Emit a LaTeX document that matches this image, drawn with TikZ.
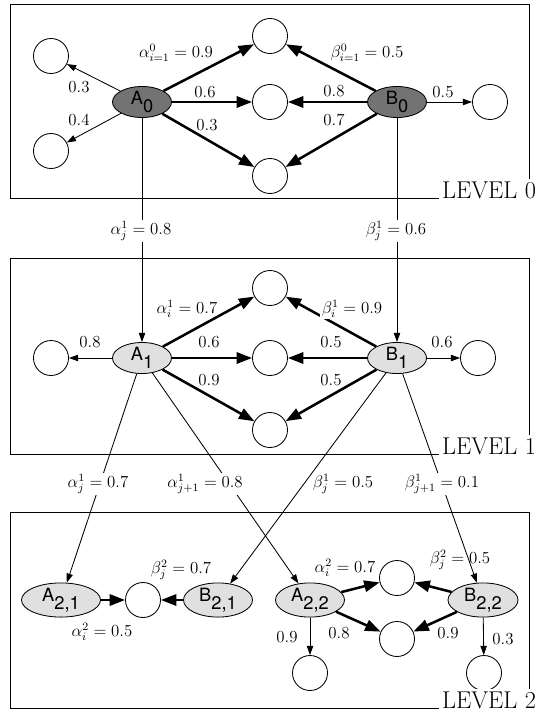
\documentclass[tikz,border=0pt]{standalone}
\usepackage{fontspec}
\setsansfont{TeX Gyre Heros}
\usetikzlibrary{shapes.geometric,arrows.meta}

% agent name with a lowered index, e.g. A_0
\newcommand\agent[2]{\textsf{#1\raisebox{-0.85ex}{#2}}}

\begin{document}
\begin{tikzpicture}[x=0.025cm,y=-0.025cm,
  state/.style={circle,draw,line width=0.6pt,fill=white,minimum size=0.875cm,inner sep=0pt},
  agent/.style={ellipse,draw,line width=0.6pt,inner sep=0pt,minimum width=1.475cm,
    minimum height=0.775cm,font=\fontsize{13}{15}\selectfont},
  dark/.style={agent,fill=black!55},
  light/.style={agent,fill=black!12},
  strong/.style={line width=1.8pt,-{Triangle[length=11pt,width=8pt]}},
  weak/.style={line width=0.6pt,-{Triangle[length=6.5pt,width=4.5pt]}},
  lbl/.style={font=\large,inner sep=1pt},
  lblw/.style={lbl,fill=white},
  level/.style={draw,line width=0.6pt},
  levelname/.style={anchor=base west,fill=white,inner sep=2pt,font=\LARGE}]

  \useasboundingbox (0,0) rectangle (536,710);

  % the three boxes
  \draw[level] (10,4) rectangle (529,198);
  \draw[level] (10,258) rectangle (529,454);
  \draw[level] (10,512) rectangle (529,708);

  % level 0
  \node[dark] (A0) at (142,102) {\agent{A}{0}};
  \node[dark] (B0) at (397,102) {\agent{B}{0}};
  \begin{scope}[every node/.style=state]
    \node (t0) at (270,36) {};
    \node (m0) at (270,102) {};
    \node (b0) at (270,176) {};
    \node (lu0) at (51,56) {};
    \node (ld0) at (51,151) {};
    \node (r0) at (490,102) {};
  \end{scope}

  \foreach \s in {t0, m0, b0} {
    \path [strong] (A0) edge (\s);
    \path [strong] (B0) edge (\s);
  }
  \path [weak] (A0) edge (lu0) edge (ld0);
  \path [weak] (B0) edge (r0);

  % level 1
  \node[light] (A1) at (142,358) {\agent{A}{1}};
  \node[light] (B1) at (397,358) {\agent{B}{1}};
  \begin{scope}[every node/.style=state]
    \node (t1) at (270,288) {};
    \node (m1) at (270,358) {};
    \node (b1) at (270,430) {};
    \node (l1) at (51,358) {};
    \node (r1) at (478,358) {};
  \end{scope}

  \foreach \s in {t1, m1, b1} {
    \path [strong] (A1) edge (\s);
    \path [strong] (B1) edge (\s);
  }
  \path [weak] (A1) edge (l1);
  \path [weak] (B1) edge (r1);

  % level 2
  \node[light,minimum width=1.975cm,minimum height=0.85cm] (A21) at (61,600) {\agent{A}{2,1}};
  \node[light,minimum width=1.725cm,minimum height=0.85cm] (B21) at (218,600) {\agent{B}{2,1}};
  \node[light,minimum width=1.725cm,minimum height=0.85cm] (A22) at (310,600) {\agent{A}{2,2}};
  \node[light,minimum width=1.75cm,minimum height=0.85cm] (B22) at (483,600) {\agent{B}{2,2}};
  \begin{scope}[every node/.style=state]
    \node (c21) at (143,600) {};
    \node (u22) at (397,578) {};
    \node (d22) at (397,639) {};
    \node (ad22) at (310,673) {};
    \node (bd22) at (484,673) {};
  \end{scope}

  \path [strong] (A21) edge (c21);
  \path [strong] (B21) edge (c21);
  \foreach \s in {u22, d22} {
    \path [strong] (A22) edge (\s);
    \path [strong] (B22) edge (\s);
  }
  \path [weak] (A22) edge (ad22);
  \path [weak] (B22) edge (bd22);

  % links between levels
  \path [weak] (A0) edge (A1);
  \path [weak] (B0) edge (B1);
  \path [weak] (A1) edge (A21) edge (A22);
  \path [weak] (B1) edge (B21) edge (B22);

  % weights, level 0
  \node[lbl]  (wA0t) at (176,53) {$\alpha^0_{i=1}=0.9$};
  \node[lblw] (wB0t) at (367,53) {$\beta^0_{i=1}=0.5$};
  \node[lbl]  (wA0m) at (205,92) {$0.6$};
  \node[lbl]  (wA0b) at (207,125) {$0.3$};
  \node[lbl]  (wB0m) at (334,91) {$0.8$};
  \node[lbl]  (wB0b) at (334,120) {$0.7$};
  \node[lbl]  (wA0u) at (79,87) {$0.3$};
  \node[lbl]  (wA0d) at (79,120) {$0.4$};
  \node[lbl]  (wB0r) at (443,92) {$0.5$};

  \node[lblw] (wA01) at (141,231) {$\alpha^1_j=0.8$};
  \node[lblw] (wB01) at (396,231) {$\beta^1_j=0.6$};

  % weights, level 1
  \node[lbl]  (wA1t) at (187,309) {$\alpha^1_i=0.7$};
  \node[lblw] (wB1t) at (352,309) {$\beta^1_i=0.9$};
  \node[lbl]  (wA1m) at (209,342) {$0.6$};
  \node[lbl]  (wA1b) at (209,380) {$0.9$};
  \node[lbl]  (wB1m) at (331,342) {$0.5$};
  \node[lbl]  (wB1b) at (331,380) {$0.5$};
  \node[lbl]  (wA1l) at (90,342) {$0.8$};
  \node[lbl]  (wB1r) at (442,342) {$0.6$};

  \node[lblw] (wA121) at (98,484) {$\alpha^1_j=0.7$};
  \node[lblw] (wA122) at (205,484) {$\alpha^1_{j+1}=0.8$};
  \node[lbl]  (wB121) at (343,484) {$\beta^1_j=0.5$};
  \node[lblw] (wB122) at (442,484) {$\beta^1_{j+1}=0.1$};

  % weights, level 2
  \node[lbl] (wB21) at (181,570) {$\beta^2_j=0.7$};
  \node[lbl] (wA21) at (102,632) {$\alpha^2_i=0.5$};
  \node[lbl] (wA22u) at (345,568) {$\alpha^2_i=0.7$};
  \node[lbl] (wB22u) at (460,560) {$\beta^2_j=0.5$};
  \node[lbl] (wA22a) at (287,637) {$0.9$};
  \node[lbl] (wA22d) at (339,633) {$0.8$};
  \node[lbl] (wB22d) at (448,633) {$0.9$};
  \node[lbl] (wB22b) at (503,639) {$0.3$};

  % level names
  \node[levelname] (lv0) at (439,198) {LEVEL 0};
  \node[levelname] (lv1) at (439,454) {LEVEL 1};
  \node[levelname] (lv2) at (439,708) {LEVEL 2};
\end{tikzpicture}
\end{document}
